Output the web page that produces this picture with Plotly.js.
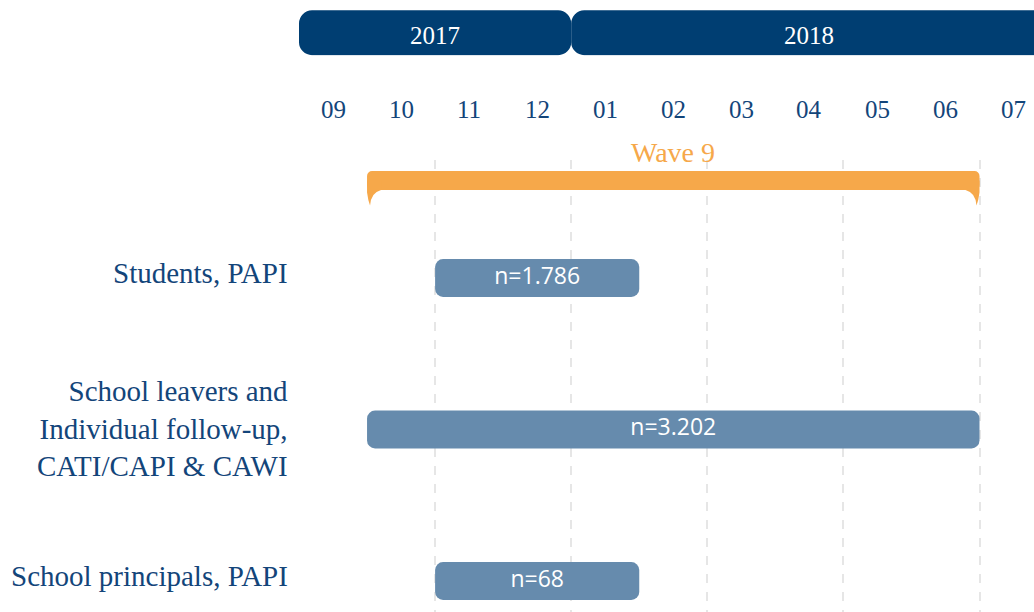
<!DOCTYPE html>
<html>
<head>
<meta charset="utf-8">
<script src="https://cdn.plot.ly/plotly-3.0.1.min.js"></script>
<style>html,body{margin:0;padding:0;background:#fff;}#chart{width:1034px;height:612px;}</style>
</head>
<body>
<div id="chart"></div>
<script>
// x values are months since 1 Sep 2017 (0 = 1 Sep 2017, 4 = 1 Jan 2018, ...)
const monthLabels = ['09','10','11','12','01','02','03','04','05','06','07'];
const years = ['2017','2018'];
const yearStart = [0, 4];
const yearEnd = [4, 11];
const waveLabel = 'Wave 9';
const waveStart = 1;
const waveEnd = 10;
const tasks = ['Students, PAPI', 'School leavers and<br>Individual follow-up,<br>CATI/CAPI & CAWI', 'School principals, PAPI'];
const taskStart = [2, 1, 2];
const taskEnd = [5, 10, 5];
const taskN = ['n=1.786', 'n=3.202', 'n=68'];
const gridMonths = [2, 4, 6, 8, 10];

const DARK = '#003e72';
const TEXTC = '#13457a';
const BAR = '#668bad';
const ORANGE = '#f6a84a';
const SERIF = '"Liberation Serif", "Times New Roman", serif';
const SANS = '"Open Sans", sans-serif';

const taskY = tasks.map((_, i) => i + 1);
const waveY = 0.356;

function roundedBars(starts, ends, ys, width, color, r, xa, ya) {
  return [{
    type: 'bar', orientation: 'h', y: ys, base: starts, x: ends.map((e, i) => e - starts[i]),
    width: ys.map(() => width),
    marker: {color: color, cornerradius: r, line: {width: 0}},
    hoverinfo: 'skip', xaxis: xa, yaxis: ya, showlegend: false
  }];
}

const traces = [];
// year header bars
traces.push(...roundedBars(yearStart, yearEnd, years.map(() => 0), 0.985, DARK, 13, 'x2', 'y2'));
// wave bracket
traces.push(...roundedBars([waveStart], [waveEnd], [waveY], 0.125, ORANGE, 5, 'x', 'y'));
// task bars
traces.push(...roundedBars(taskStart, taskEnd, taskY, 0.25, BAR, 8, 'x', 'y'));
traces.push({
  type: 'scatter', mode: 'text', x: taskStart.map((s, i) => (s + taskEnd[i]) / 2), y: taskY,
  text: taskN, textfont: {family: SANS, size: 23, color: '#ffffff'}, textposition: 'middle center',
  hoverinfo: 'skip', cliponaxis: false, showlegend: false
});

const annotations = monthLabels.map((m, i) => ({
  x: i + 0.5, xref: 'x', y: (612 - 109) / 612, yref: 'paper', text: m, showarrow: false,
  xanchor: 'center', yanchor: 'middle', font: {family: SERIF, size: 25, color: TEXTC}
}));
years.forEach((yr, i) => {
  annotations.push({
    x: (yearStart[i] + yearEnd[i]) / 2, xref: 'x2', y: 0, yref: 'y2', text: yr, showarrow: false,
    xanchor: 'center', yanchor: 'middle', yshift: -3, font: {family: SERIF, size: 25, color: '#ffffff'}
  });
});
annotations.push({
  x: (waveStart + waveEnd) / 2, xref: 'x', y: (612 - 152) / 612, yref: 'paper', text: waveLabel,
  showarrow: false, xanchor: 'center', yanchor: 'middle', font: {family: SERIF, size: 28, color: ORANGE}
});
// row labels, right aligned left of the plot area
tasks.forEach((t, i) => {
  const lines = t.split('<br>').length;
  annotations.push({
    x: 0, xref: 'paper', y: taskY[i], yref: 'y', text: t, showarrow: false, align: 'right',
    xanchor: 'right', yanchor: 'middle', xshift: -9, yshift: lines > 1 ? 1 : 5,
    font: {family: SERIF, size: 29, color: TEXTC}
  });
});

// bracket hooks (pixel offsets relative to the bracket ends)
const shapes = [
  {type: 'path', xref: 'x', yref: 'y', xsizemode: 'pixel', ysizemode: 'pixel', xanchor: waveStart, yanchor: waveY,
   path: 'M 0,0 L 0,-12 Q 1,-20 3,-25 Q 4,-12 14,-9.5 L 14,0 Z', fillcolor: ORANGE, line: {width: 0}, layer: 'above'},
  {type: 'path', xref: 'x', yref: 'y', xsizemode: 'pixel', ysizemode: 'pixel', xanchor: waveEnd, yanchor: waveY,
   path: 'M 0,0 L 0,-12 Q -1,-20 -3,-25 Q -4,-12 -14,-9.5 L -14,0 Z', fillcolor: ORANGE, line: {width: 0}, layer: 'above'}
];

const pxPerMonth = 68.05;
const plotW = 1034 - 299;
const layout = {
  width: 1034, height: 612,
  margin: {l: 299, r: 0, t: 0, b: 0, pad: 0},
  paper_bgcolor: '#ffffff', plot_bgcolor: '#ffffff',
  barmode: 'overlay', showlegend: false,
  xaxis: {range: [0, plotW / pxPerMonth], tickmode: 'array', tickvals: gridMonths, showticklabels: false,
          showgrid: true, gridcolor: '#e6e6e6', gridwidth: 2, griddash: 'dash', zeroline: false, showline: false, ticks: '', fixedrange: true},
  yaxis: {domain: [0, (612 - 160) / 612], range: [3.2046, 0.2211], showticklabels: false, ticks: '',
          showgrid: false, zeroline: false, showline: false, fixedrange: true},
  xaxis2: {matches: 'x', anchor: 'y2', showgrid: false, showticklabels: false, zeroline: false, showline: false, ticks: ''},
  yaxis2: {domain: [(612 - 55.5) / 612, (612 - 10) / 612], range: [-0.5, 0.5], anchor: 'x2',
           showgrid: false, showticklabels: false, zeroline: false, showline: false, ticks: '', fixedrange: true},
  annotations: annotations,
  shapes: shapes
};

Plotly.newPlot('chart', traces, layout, {displayModeBar: false, staticPlot: true});
</script>
</body>
</html>
